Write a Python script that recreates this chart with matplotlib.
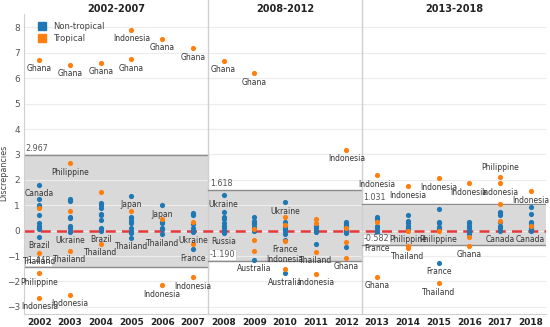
import matplotlib
matplotlib.use("Agg")
import matplotlib.pyplot as plt
from matplotlib.lines import Line2D

plt.rcParams.update({
    "font.family": "DejaVu Sans",
    "font.size": 6.5,
})

BLUE = "#1f77b4"
ORANGE = "#ff7f0e"

years = [2002, 2003, 2004, 2005, 2006, 2007, 2008, 2009, 2010, 2011, 2012,
         2013, 2014, 2015, 2016, 2017, 2018]

tropical = {
    2002: [6.73, 0.90, -0.87, -1.68, -2.64],
    2003: [6.54, 2.65, 0.78, -0.79, -2.53],
    2004: [6.61, 1.52, -0.52],
    2005: [7.91, 6.75, 0.78],
    2006: [7.55, 0.45, -2.15],
    2007: [7.18, 0.35, -0.54, -1.84],
    2008: [6.69],
    2009: [6.20, 0.05, -0.37, -0.79],
    2010: [0.55, 0.22, -0.42, -1.50],
    2011: [0.47, 0.30, -0.83, -1.69],
    2012: [3.18, 0.10, -0.43, -1.06],
    2013: [2.19, 0.35, -0.40, -1.81],
    2014: [1.76, 0.00, -0.60, -0.68],
    2015: [2.06, 0.00, -2.07],
    2016: [1.87, -0.25, -0.59],
    2017: [2.13, 1.87, 1.05, 0.40],
    2018: [1.56, 0.20],
}

non_tropical = {
    2002: [1.80, 1.25, 1.00, 0.95, 0.60, 0.30, 0.20, 0.10, 0.05, -0.24],
    2003: [1.25, 1.20, 1.15, 0.55, 0.50, 0.20, 0.10, 0.00, -0.05],
    2004: [1.10, 1.00, 0.90, 0.65, 0.60, 0.42, 0.10, 0.05, 0.00],
    2005: [1.37, 0.55, 0.50, 0.40, 0.30, 0.10, 0.00, -0.10, -0.27],
    2006: [1.00, 0.35, 0.30, 0.10, 0.05, -0.15],
    2007: [0.70, 0.65, 0.60, 0.25, 0.10, 0.00, -0.05, -0.73],
    2008: [1.39, 0.74, 0.55, 0.45, 0.30, 0.20, 0.10, 0.00, -0.08],
    2009: [0.53, 0.40, 0.30, 0.25, 0.15, 0.05, 0.00, -1.15],
    2010: [1.12, 0.35, 0.15, 0.05, 0.00, -0.15, -0.37, -1.68],
    2011: [0.20, 0.10, 0.00, -0.05, -0.52],
    2012: [0.35, 0.30, 0.25, 0.20, 0.15, 0.05, 0.00, -0.10, -0.65],
    2013: [0.53, 0.45, 0.20, 0.10, 0.00, -0.10, -0.33],
    2014: [0.62, 0.40, 0.30, 0.20, 0.10, 0.05],
    2015: [0.85, 0.35, 0.30, 0.15, 0.05, -1.26],
    2016: [0.35, 0.30, 0.20, 0.10, 0.00, -0.13],
    2017: [0.75, 0.70, 0.60, 0.35, 0.20, 0.10, 0.00],
    2018: [0.95, 0.66, 0.35, 0.30, 0.20, 0.10, 0.05, 0.00],
}

# (year, value, text, side)
point_labels = [
    (2002, 6.73, "Ghana", "below"), (2002, 1.80, "Canada", "below"),
    (2002, -0.24, "Brazil", "below"), (2002, -0.87, "Thailand", "below"),
    (2002, -1.68, "Philippine", "below"), (2002, -2.64, "Indonesia", "below"),
    (2003, 6.54, "Ghana", "below"), (2003, 2.65, "Philippine", "below"),
    (2003, -0.05, "Ukraine", "below"), (2003, -0.79, "Thailand", "below"),
    (2003, -2.53, "Indonesia", "below"),
    (2004, 6.61, "Ghana", "below"), (2004, 0.00, "Brazil", "below"),
    (2004, -0.52, "Thailand", "below"),
    (2005, 7.91, "Indonesia", "below"), (2005, 6.75, "Ghana", "below"),
    (2005, 1.37, "Japan", "below"), (2005, -0.27, "Thailand", "below"),
    (2006, 7.55, "Ghana", "below"), (2006, 1.00, "Japan", "below"),
    (2006, -0.15, "Thailand", "below"), (2006, -2.15, "Indonesia", "below"),
    (2007, 7.18, "Ghana", "below"), (2007, -0.05, "Ukraine", "below"),
    (2007, -0.73, "France", "below"), (2007, -1.84, "Indonesia", "below"),
    (2008, 6.69, "Ghana", "below"), (2008, 1.39, "Ukraine", "below"),
    (2008, -0.08, "Russia", "below"),
    (2009, 6.20, "Ghana", "below"), (2009, -1.15, "Australia", "below"),
    (2010, 1.12, "Ukraine", "below"), (2010, -0.37, "France", "below"),
    (2010, -1.50, "Indonesia", "above"), (2010, -1.68, "Australia", "below"),
    (2011, -0.83, "Thailand", "below"), (2011, -1.69, "Indonesia", "below"),
    (2012, 3.18, "Indonesia", "below"), (2012, -1.06, "Ghana", "below"),
    (2013, 2.19, "Indonesia", "below"), (2013, -0.33, "France", "below"),
    (2013, -1.81, "Ghana", "below"),
    (2014, 1.76, "Indonesia", "below"), (2014, 0.00, "Philippine", "below"),
    (2014, -0.68, "Thailand", "below"),
    (2015, 2.06, "Indonesia", "below"), (2015, 0.00, "Philippine", "below"),
    (2015, -1.26, "France", "below"), (2015, -2.07, "Thailand", "below"),
    (2016, 1.87, "Indonesia", "below"), (2016, -0.59, "Ghana", "below"),
    (2017, 2.13, "Philippine", "above"), (2017, 1.87, "Indonesia", "below"),
    (2017, 0.00, "Canada", "below"),
    (2018, 1.56, "Indonesia", "below"), (2018, 0.00, "Canada", "below"),
]

periods = ["2002-2007", "2008-2012", "2013-2018"]
period_years = [years[0:6], years[6:11], years[11:17]]
band_hi = [2.967, 1.618, 1.031]
band_lo = [-1.448, -1.190, -0.582]

fig = plt.figure(figsize=(5.5, 3.27), dpi=100)
ax = fig.add_axes([24 / 550, 1 - 314 / 327, 522 / 550, 300 / 327])

xpos = {y: i for i, y in enumerate(years)}

# reference bands per period
for name, yrs, hi, lo in zip(periods, period_years, band_hi, band_lo):
    x0 = xpos[yrs[0]] - 0.5
    x1 = xpos[yrs[-1]] + 0.5
    ax.fill_between([x0, x1], lo, hi, color="#d9d9d9", lw=0, zorder=0.5)
    ax.plot([x0, x1], [hi, hi], color="#8c8c8c", lw=1.0, zorder=1)
    ax.plot([x0, x1], [lo, lo], color="#8c8c8c", lw=1.0, zorder=1)
    ax.text(x0 + 0.06, hi + 0.08, f"{hi:.3f}", fontsize=5.8, color="#555555",
            va="bottom", ha="left", zorder=4)
    ax.text(x0 + 0.06, lo + 0.08, f"{lo:.3f}", fontsize=5.8, color="#555555",
            va="bottom", ha="left", zorder=4,
            bbox=dict(boxstyle="square,pad=0.1", fc="white", ec="#cccccc", lw=0.5))
    ax.text((x0 + x1) / 2, 1.017, name, transform=ax.get_xaxis_transform(),
            ha="center", va="center", fontsize=7, fontweight="bold", color="#222222")
    if x1 < len(years) - 0.5:
        ax.axvline(x1, color="#cfcfcf", lw=1.0, zorder=1, ymax=1.05, clip_on=False)

# zero line
ax.axhline(0, color="#e8383b", lw=1.8, ls=(0, (4, 2.5)), zorder=2)

for y in years:
    nt = non_tropical[y]
    tr = tropical[y]
    ax.scatter([xpos[y]] * len(nt), nt, s=14, color=BLUE, lw=0, zorder=3)
    ax.scatter([xpos[y]] * len(tr), tr, s=14, color=ORANGE, lw=0, zorder=3)

for y, v, txt, side in point_labels:
    off = -6.5 if side == "below" else 6.5
    ax.annotate(txt, (xpos[y], v), xytext=(0, off), textcoords="offset points",
                ha="center", va="center", fontsize=5.5, color="#333333", zorder=5)

ax.set_xlim(-0.5, len(years) - 0.5)
ax.set_ylim(-3.28, 8.53)
ax.set_xticks(range(len(years)))
ax.set_xticklabels([str(y) for y in years], fontweight="bold", fontsize=6.5,
                   color="#222222")
ax.set_yticks(range(-3, 9))
ax.tick_params(axis="y", length=0, labelsize=6.5, labelcolor="#555555", pad=3)
ax.tick_params(axis="x", length=0, pad=3)
ax.set_ylabel("Discrepancies", fontsize=5.8, color="#444444")
ax.yaxis.set_label_coords(-0.031, 0.47)
ax.grid(axis="y", color="#ececec", lw=0.8, zorder=0)
ax.set_axisbelow(True)
for side in ["top", "right"]:
    ax.spines[side].set_visible(False)
ax.spines["left"].set_color("#d0d0d0")
ax.spines["bottom"].set_color("#d0d0d0")

handles = [
    Line2D([], [], marker="s", ls="", color=BLUE, markersize=6, label="Non-tropical"),
    Line2D([], [], marker="s", ls="", color=ORANGE, markersize=6, label="Tropical"),
]
ax.legend(handles=handles, loc="upper left", bbox_to_anchor=(0.012, 0.985),
          frameon=False, fontsize=6, handletextpad=0.3, labelspacing=0.35,
          borderaxespad=0.0, labelcolor="#444444")

fig.savefig("out.png", dpi=100)
